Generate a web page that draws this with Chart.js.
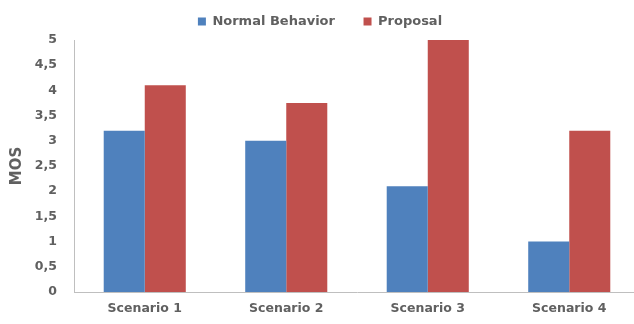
<!DOCTYPE html>
<html>
<head>
<meta charset="utf-8">
<script src="https://cdn.jsdelivr.net/npm/chart.js@4.4.1/dist/chart.umd.min.js"></script>
<style>
html,body{margin:0;padding:0;background:#fff;overflow:hidden;}
#wrap{width:640px;height:324px;}
</style>
</head>
<body>
<div id="wrap"><canvas id="c" width="640" height="324"></canvas></div>
<script>
const categories = ["Scenario 1", "Scenario 2", "Scenario 3", "Scenario 4"];
const normalBehavior = [3.2, 3.0, 2.1, 1.0];
const proposal = [4.1, 3.75, 5.0, 3.2];
const seriesNames = ["Normal Behavior", "Proposal"];
const yTicks = [0, 0.5, 1, 1.5, 2, 2.5, 3, 3.5, 4, 4.5, 5];

const FONT = "'DejaVu Sans', 'Liberation Sans', sans-serif";
const TXT = "#606060";
const LEGEND_EXTRA = 2;

const legendHeightPlugin = {
  id: "legendHeight",
  beforeLayout(chart) {
    const lg = chart.legend;
    if (lg && !lg._wrappedFit) {
      const f = lg.fit.bind(lg);
      lg.fit = function () { f(); this.height += LEGEND_EXTRA; };
      lg._wrappedFit = true;
    }
  }
};

new Chart(document.getElementById("c"), {
  type: "bar",
  data: {
    labels: categories,
    datasets: [
      { label: seriesNames[0], data: normalBehavior, backgroundColor: "#4F81BD", borderWidth: 0 },
      { label: seriesNames[1], data: proposal, backgroundColor: "#C0504D", borderWidth: 0 }
    ]
  },
  plugins: [legendHeightPlugin],
  options: {
    responsive: false,
    animation: false,
    devicePixelRatio: 1,
    layout: { padding: { left: 0, right: 0, top: 0, bottom: 0 } },
    datasets: { bar: { categoryPercentage: 0.58, barPercentage: 1.0 } },
    plugins: {
      tooltip: { enabled: false },
      legend: {
        position: "top",
        labels: {
          boxWidth: 8, boxHeight: 8, padding: 15,
          color: TXT,
          font: { family: FONT, size: 13, weight: "bold" },
          generateLabels: chart => {
            const items = Chart.defaults.plugins.legend.labels.generateLabels(chart);
            items.forEach((it, i) => { if (i < items.length - 1) it.text = it.text + "   "; });
            return items;
          }
        }
      }
    },
    scales: {
      x: {
        grid: { display: false, drawTicks: false },
        border: { display: true, color: "#BFBFBF", width: 1 },
        ticks: { color: TXT, padding: 9, font: { family: FONT, size: 12.5, weight: "bold" } },
        afterFit: s => { s.height = 32; }
      },
      y: {
        min: 0, max: 5,
        afterBuildTicks: s => { s.ticks = yTicks.map(v => ({ value: v })); },
        grid: { display: false, drawTicks: false },
        border: { display: true, color: "#BFBFBF", width: 1 },
        ticks: {
          color: TXT, padding: 17,
          font: { family: FONT, size: 12.5, weight: "bold" },
          callback: v => String(v).replace(".", ",")
        },
        title: { display: true, text: "MOS", color: TXT, padding: { top: 8, bottom: 0 }, font: { family: FONT, size: 15, weight: "bold" } },
        afterFit: s => { s.width = 74; }
      }
    }
  }
});
</script>
</body>
</html>
